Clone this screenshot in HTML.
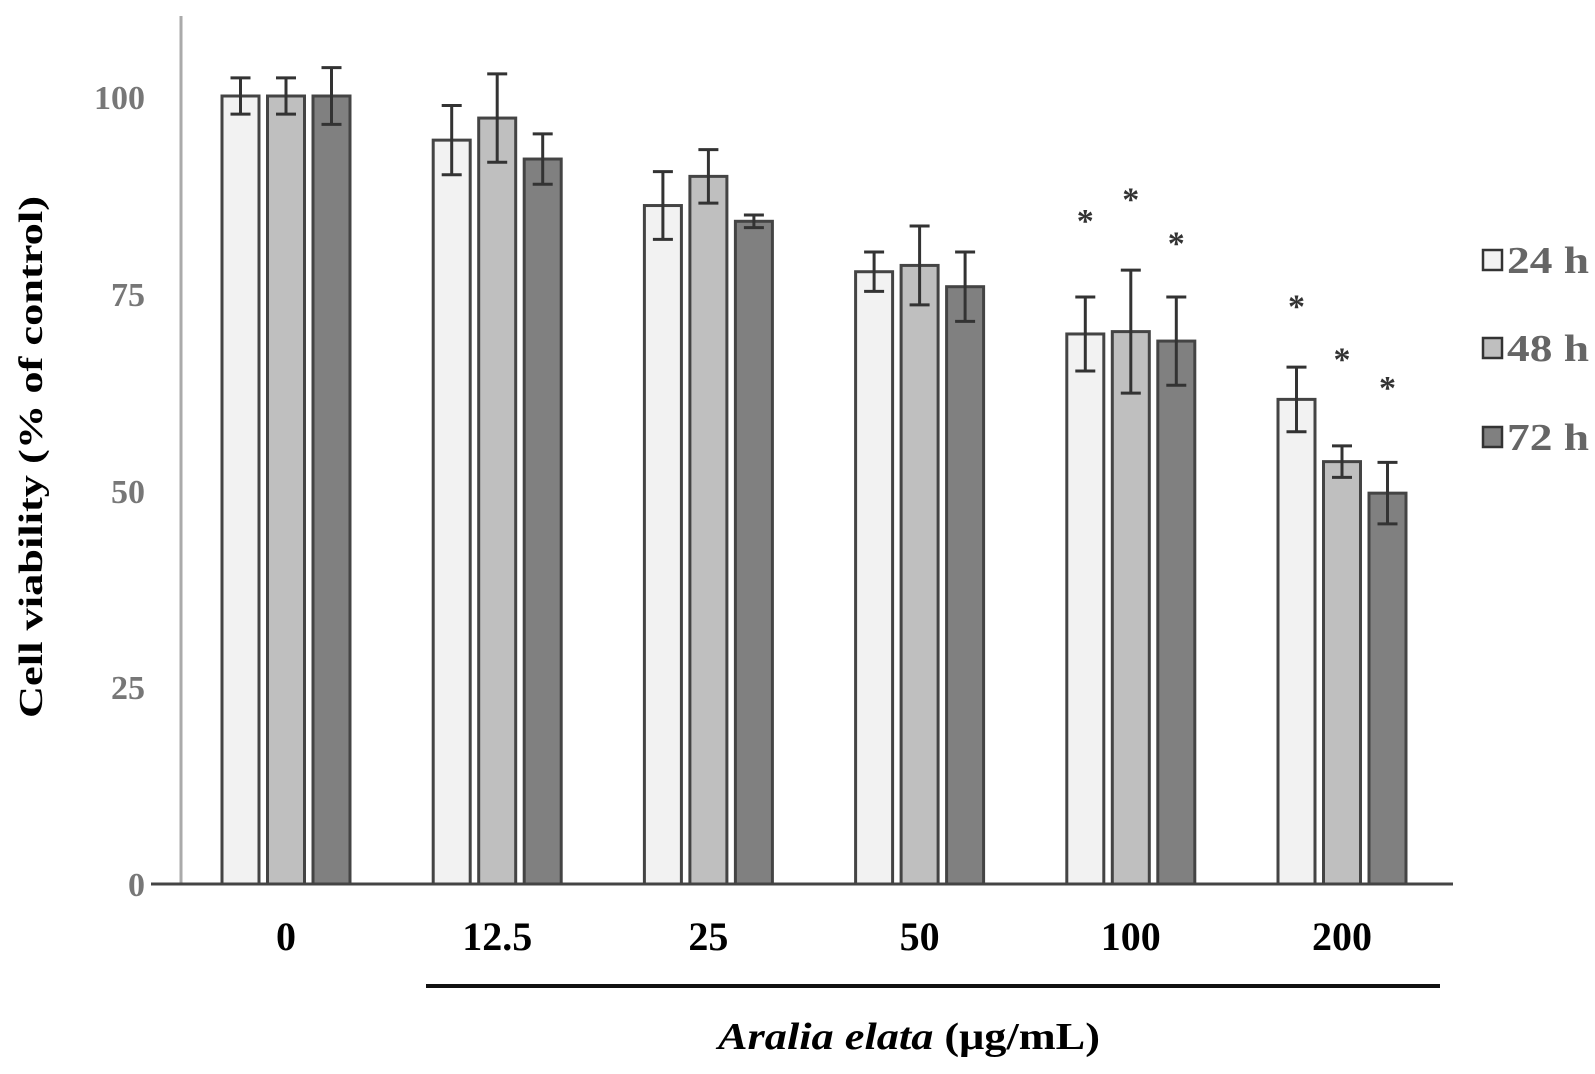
<!DOCTYPE html>
<html><head><meta charset="utf-8"><style>
html,body{margin:0;padding:0;background:#fff;}
svg{display:block;}
text{font-family:"Liberation Serif",serif;font-weight:bold;}
</style></head><body>
<svg width="1595" height="1074" viewBox="0 0 1595 1074" xmlns="http://www.w3.org/2000/svg">
<line x1="181" y1="16" x2="181" y2="884" stroke="#aaa" stroke-width="3"/>
<line x1="151" y1="884" x2="1453" y2="884" stroke="#444" stroke-width="3"/>
<g fill="#777" font-size="34" text-anchor="end">
<text x="145" y="109">100</text>
<text x="145" y="306">75</text>
<text x="145" y="503">50</text>
<text x="145" y="699">25</text>
<text x="145" y="896">0</text>
</g>
<text transform="translate(42,457) rotate(-90)" text-anchor="middle" font-size="34" fill="#000" textLength="522" lengthAdjust="spacingAndGlyphs">Cell viability (% of control)</text>
<g id="bars" stroke="#444" stroke-width="3"></g>
<g id="errs" stroke="#333" stroke-width="3"></g>
<g id="stars" fill="#333" font-size="34" text-anchor="middle"></g>
<g font-size="40" fill="#000" text-anchor="middle" id="xl"></g>
<line x1="426" y1="986" x2="1440" y2="986" stroke="#111" stroke-width="4"/>
<text x="718" y="1049" font-size="38" fill="#000" textLength="382" lengthAdjust="spacingAndGlyphs"><tspan font-style="italic">Aralia elata</tspan> (μg/mL)</text>
<g stroke="#333" stroke-width="2.5">
<rect x="1483" y="250" width="19" height="20" fill="#f2f2f2"/>
<rect x="1483" y="338" width="19" height="20" fill="#bfbfbf"/>
<rect x="1483" y="427" width="19" height="20" fill="#808080"/>
</g>
<g fill="#666" font-size="38">
<text x="1507" y="273" textLength="82" lengthAdjust="spacingAndGlyphs">24 h</text>
<text x="1507" y="361" textLength="82" lengthAdjust="spacingAndGlyphs">48 h</text>
<text x="1507" y="450" textLength="82" lengthAdjust="spacingAndGlyphs">72 h</text>
</g>
<script>
var d=[[[100,2.3],[100,2.3],[100,3.6]],[[94.4,4.4],[97.2,5.6],[92,3.2]],[[86.1,4.3],[89.8,3.4],[84.1,0.8]],[[77.7,2.5],[78.5,5],[75.8,4.4]],[[69.8,4.7],[70.1,7.8],[68.9,5.6]],[[61.5,4.1],[53.6,2],[49.6,3.9]]];
var labs=["0","12.5","25","50","100","200"];
var cols=["#f2f2f2","#bfbfbf","#808080"];
var stars={4:[213,192,235],5:[297,349,377]};
function Y(v){return 884-v*7.88;}
var ns="http://www.w3.org/2000/svg";
function el(p,t,a,txt){var e=document.createElementNS(ns,t);for(var k in a)e.setAttribute(k,a[k]);if(txt)e.textContent=txt;document.getElementById(p).appendChild(e);}
for(var g=0;g<6;g++){var gx=222+g*211.2;
 for(var b=0;b<3;b++){var x=gx+[0,45.5,91][b],w=37,v=d[g][b][0],e=d[g][b][1];
  el("bars","rect",{x:x,y:Y(v),width:w,height:884-Y(v),fill:cols[b]});
  var cx=x+w/2;
  el("errs","line",{x1:cx,y1:Y(v+e),x2:cx,y2:Y(v-e)});
  el("errs","line",{x1:cx-10,y1:Y(v+e),x2:cx+10,y2:Y(v+e)});
  el("errs","line",{x1:cx-10,y1:Y(v-e),x2:cx+10,y2:Y(v-e)});
  if(stars[g])el("stars","text",{x:cx,y:stars[g][b]*1.0185+15},"*");
 }
 el("xl","text",{x:gx+64,y:950},labs[g]);
}
</script>
</svg>
</body></html>
